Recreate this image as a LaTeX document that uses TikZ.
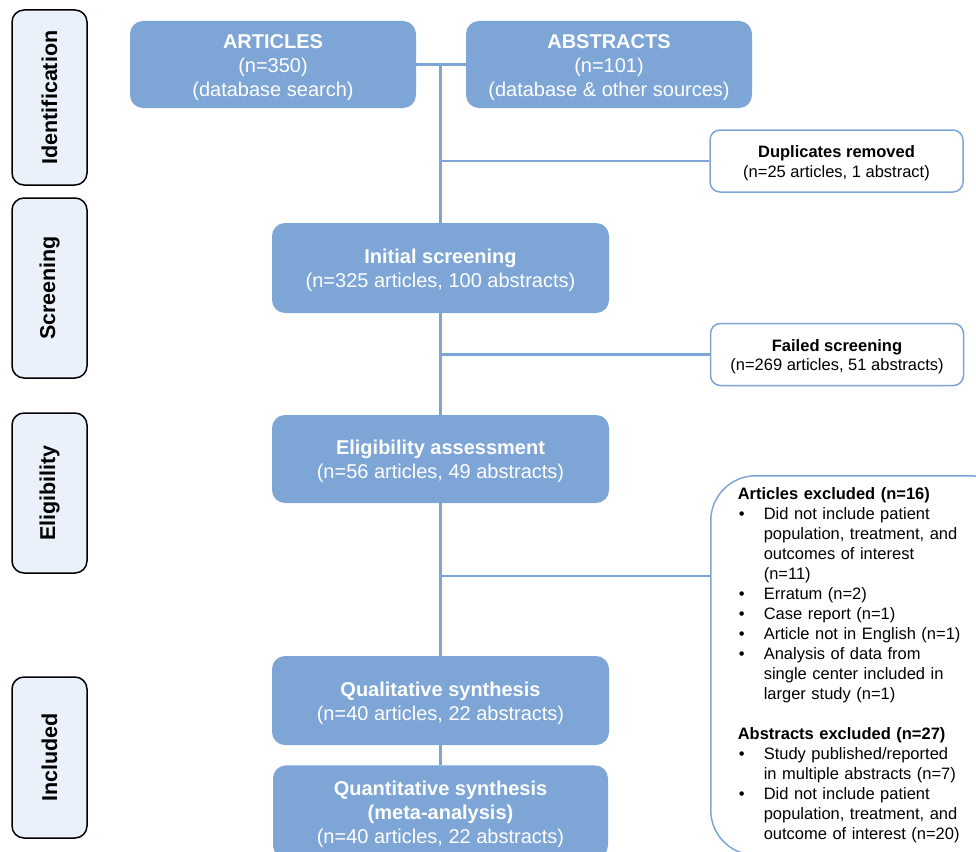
\documentclass[tikz,border=0pt]{standalone}
\usepackage{fontspec}
\setmainfont{Liberation Sans}
\usepackage{tikz}
\usetikzlibrary{positioning}
\definecolor{FlowBlue}{RGB}{125,165,214}
\definecolor{StageFill}{RGB}{234,241,251}
\newcommand{\exitem}[1]{\par\noindent\hangindent=26pt\hangafter=1\makebox[26pt][l]{\hspace{1pt}\textbullet}#1}
\newcommand{\firstline}[2]{\rule{0pt}{#1}\textbf{#2}}

\begin{document}
\begin{tikzpicture}[x=1pt,y=-1pt,
    stagebox/.style={draw=black,line width=1.5pt,fill=StageFill,rounded corners=12pt,rotate=90,minimum height=75pt,inner sep=0pt,font=\fontsize{21.5}{26}\selectfont\bfseries},
    flowbox/.style={fill=FlowBlue,rounded corners=13pt,text=white,align=center,inner sep=0pt,font=\fontsize{20}{24}\selectfont},
    sidebox/.style={draw=FlowBlue,line width=1.5pt,fill=white,rounded corners=10pt,align=center,inner sep=0pt,minimum width=253pt,minimum height=62pt,font=\fontsize{16.5}{19.5}\selectfont},
    link/.style={draw=FlowBlue,line width=2.5pt}]
    \useasboundingbox (0,0) rectangle (976,851);
    \clip (0,0) rectangle (976,851);
    \node[stagebox,minimum width=175pt] (sid) at (49.5,97.5) {Identification};
    \node[stagebox,minimum width=180pt] (sscr) at (49.5,288) {Screening};
    \node[stagebox,minimum width=160pt] (selig) at (49.5,493) {Eligibility};
    \node[stagebox,minimum width=161pt] (sinc) at (49.5,757.5) {Included};
    \node[flowbox,minimum width=286pt,minimum height=87pt] (art) at (273,64.5) {\firstline{20pt}{ARTICLES}\\(n=350)\\(database search)};
    \node[flowbox,minimum width=286pt,minimum height=87pt] (abs) at (609,64.5) {\firstline{20pt}{ABSTRACTS}\\(n=101)\\(database \& other sources)};
    \node[flowbox,minimum width=337pt,minimum height=90pt] (init) at (440.5,268) {\firstline{20pt}{Initial screening}\\(n=325 articles, 100 abstracts)};
    \node[flowbox,minimum width=337pt,minimum height=88pt] (elig) at (440.5,459) {\firstline{20pt}{Eligibility assessment}\\(n=56 articles, 49 abstracts)};
    \node[flowbox,minimum width=337pt,minimum height=89pt] (qual) at (440.5,700.5) {\firstline{20pt}{Qualitative synthesis}\\(n=40 articles, 22 abstracts)};
    \node[flowbox,minimum width=335pt,minimum height=93pt,below=20pt of qual] (quant) {\firstline{20pt}{Quantitative synthesis}\\\textbf{(meta-analysis)}\\(n=40 articles, 22 abstracts)};
    \node[sidebox] (dup) at (836.5,161) {\firstline{16.5pt}{Duplicates removed}\\(n=25 articles, 1 abstract)};
    \node[sidebox] (fail) at (837,354.5) {\firstline{16.5pt}{Failed screening}\\(n=269 articles, 51 abstracts)};
    \node[draw=FlowBlue,line width=1.5pt,fill=white,rounded corners=45pt,anchor=north west,inner xsep=27pt,inner ysep=12pt,text width=250pt,align=left,font=\fontsize{16.5}{20}\selectfont] (excl) at (710,475) {%
      \textbf{Articles excluded (n=16)}
      \exitem{Did not include patient\newline population, treatment, and\newline outcomes of interest\newline (n=11)}
      \exitem{Erratum (n=2)}
      \exitem{Case report (n=1)}
      \exitem{Article not in English (n=1)}
      \exitem{Analysis of data from\newline single center included in\newline larger study (n=1)}
      \par\vskip 20pt\noindent\textbf{Abstracts excluded (n=27)}
      \exitem{Study published/reported\newline in multiple abstracts (n=7)}
      \exitem{Did not include patient\newline population, treatment, and\newline outcome of interest (n=20)}\par};
    \coordinate (hub) at (art.east -| init.north);
    \coordinate (exclin) at (710,576);
    \draw[link] (art.east) -- (abs.west);
    \draw[link] (hub) -- (init.north);
    \draw[link] (init.south) -- (elig.north);
    \draw[link] (elig.south) -- (qual.north);
    \draw[link] (qual.south) -- (quant.north);
    \draw[link] (dup.west) -- (dup.west -| hub);
    \draw[link] (fail.west) -- (fail.west -| hub);
    \draw[link] (exclin) -- (exclin -| hub);
\end{tikzpicture}
\end{document}
